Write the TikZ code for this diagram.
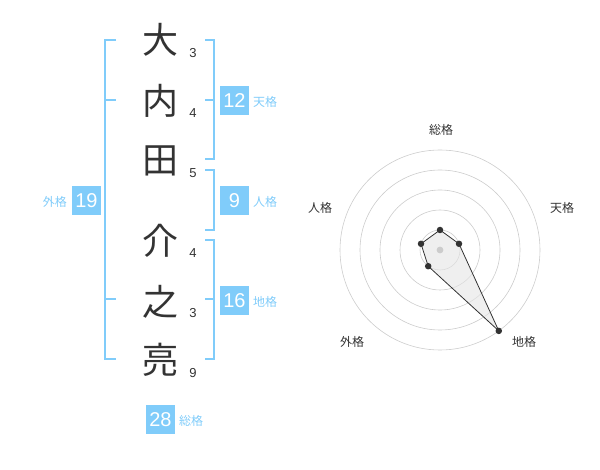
\documentclass[tikz,border=0pt]{standalone}
\usepackage{fontspec}
\setmainfont{Liberation Sans}
\newfontfamily\cjk{Noto Sans CJK JP}
\definecolor{skyb}{HTML}{80CCFA}
\definecolor{ink}{HTML}{333333}
\definecolor{ringc}{HTML}{CCCCCC}
\begin{document}
\begin{tikzpicture}[x=1pt,y=-1pt,
  kanji/.style={font=\cjk\fontsize{36}{36}\selectfont, text=ink, inner sep=0pt},
  strokes/.style={font=\fontsize{13}{13}\selectfont, text=ink, inner sep=0pt},
  numbox/.style={fill=skyb, text=white, font=\fontsize{20}{20}\selectfont, minimum width=29pt, minimum height=29pt, inner sep=0pt},
  kaku/.style={font=\cjk\fontsize{12}{12}\selectfont, text=skyb, inner sep=0pt},
  bracket/.style={draw=skyb, line width=2pt},
  ring/.style={draw=ringc, line width=0.6pt},
  axlabel/.style={font=\cjk\fontsize{12}{12}\selectfont, text=ink, inner sep=0pt},
  dot/.style={circle, fill=ink, inner sep=0pt, minimum size=6.5pt}]
\useasboundingbox (0,0) rectangle (600,470);
% characters
\node[kanji] (c1) at (160,40) {大};
\node[kanji] (c2) at (160,101) {内};
\node[kanji] (c3) at (160,161) {田};
\node[kanji] (c4) at (160,241) {介};
\node[kanji] (c5) at (160,302) {之};
\node[kanji] (c6) at (160,360) {亮};
\node[strokes] (s1) at (193,53) {3};
\node[strokes] (s2) at (193,113) {4};
\node[strokes] (s3) at (193,173) {5};
\node[strokes] (s4) at (193,253) {4};
\node[strokes] (s5) at (193,313) {3};
\node[strokes] (s6) at (193,373) {9};
% left bracket (gaikaku)
\draw[bracket] (116,40) -- (105,40) -- (105,359) -- (116,359);
\draw[bracket] (105,100) -- (116,100);
\draw[bracket] (105,299) -- (116,299);
% right brackets
\draw[bracket] (205,40) -- (214,40) -- (214,159) -- (205,159);
\draw[bracket] (205,100) -- (214,100);
\draw[bracket] (205,170) -- (214,170) -- (214,230) -- (205,230);
\draw[bracket] (205,240) -- (214,240) -- (214,359) -- (205,359);
\draw[bracket] (205,299) -- (214,299);
% boxes
\node[numbox] (b1) at (234.5,100.5) {12};
\node[kaku, anchor=west] (k1) at (253,102) {天格};
\node[numbox] (b2) at (234.5,200.5) {9};
\node[kaku, anchor=west] (k2) at (253,202) {人格};
\node[numbox] (b3) at (234.5,300.5) {16};
\node[kaku, anchor=west] (k3) at (253,302) {地格};
\node[numbox] (b4) at (86.5,200.5) {19};
\node[kaku, anchor=east] (k4) at (67,202) {外格};
\node[numbox] (b5) at (160.5,419.5) {28};
\node[kaku, anchor=west] (k5) at (179,421) {総格};
% radar chart
\begin{scope}[shift={(440,250)}]
  \foreach \r in {20,40,60,80,100} \draw[ring] (0,0) circle (\r);
  \coordinate (p1) at (0,-20);
  \coordinate (p2) at (19.0,-6.2);
  \coordinate (p3) at (58.8,80.9);
  \coordinate (p4) at (-11.8,16.2);
  \coordinate (p5) at (-19.0,-6.2);
  \filldraw[fill=black!10, fill opacity=0.6, draw=ink, line width=0.8pt] (p1) -- (p2) -- (p3) -- (p4) -- (p5) -- cycle;
  \fill[ringc] (0,0) circle (3.4);
  \foreach \p in {p1,p2,p3,p4,p5} \node[dot] at (\p) {};
\end{scope}
\node[axlabel] (a1) at (441,130) {総格};
\node[axlabel] (a2) at (562,208) {天格};
\node[axlabel] (a3) at (524,342) {地格};
\node[axlabel] (a4) at (352,342) {外格};
\node[axlabel] (a5) at (320,208) {人格};
\end{tikzpicture}
\end{document}
